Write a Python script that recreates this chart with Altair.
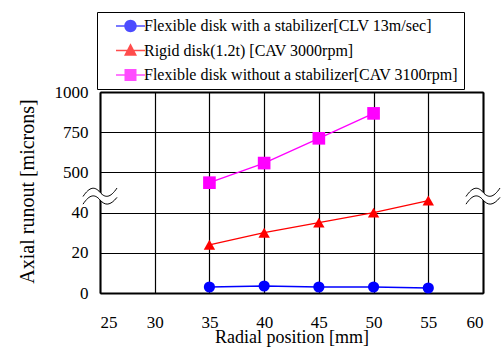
import altair as alt
import pandas as pd

# ---- data ----
radial = [35, 40, 45, 50, 55]
series_names = [
    "Flexible disk with a stabilizer[CLV 13m/sec]",
    "Rigid disk(1.2t) [CAV 3000rpm]",
    "Flexible disk without a stabilizer[CAV 3100rpm]",
]
stabilized = [3, 3.5, 3, 3, 2.5]
rigid = [24, 30, 35, 40, 46]
unstabilized = [436, 558, 712, 867]
colors = ["#0000FF", "#FF0000", "#FF00FF"]
marker_shapes = ["circle", "triangle-up", "square"]
marker_sizes = [125, 130, 160]
line_widths = [1.6, 1.3, 1.3]
x_ticks = [25, 30, 35, 40, 45, 50, 55, 60]
y_tick_labels = ["0", "20", "40", "500", "750", "1000"]
break_x = [25, 60]
break_level = [2.4, 2.4]

FONT = "Liberation Serif"

rows = []
for s, vals in zip(series_names, [stabilized, rigid, unstabilized]):
    for r, v in zip(radial, vals):
        rows.append({"radial": r, "series": s, "runout": v})
df = pd.DataFrame(rows)
breaks = pd.DataFrame({"radial": break_x, "pos": break_level})

# broken axis: 0..40 on the lower two cells, 500..1000 on the upper two cells
pos_expr = "datum.runout <= 100 ? datum.runout / 20 : 3 + (datum.runout - 500) / 250"
label_expr = "[" + ",".join("'%s'" % t for t in y_tick_labels) + "][datum.value]"

x_scale = alt.Scale(domain=[25, 60], nice=False, zero=False)
y_scale = alt.Scale(domain=[0, 5], nice=False)

x_enc = alt.X(
    "radial:Q", scale=x_scale,
    axis=alt.Axis(values=x_ticks, format="d", title="Radial position [mm]",
                  labelBaseline="alphabetic", labelPadding=34,
                  titleBaseline="alphabetic", titleY=49.5),
)
y_enc = alt.Y(
    "pos:Q", scale=y_scale,
    axis=alt.Axis(values=list(range(len(y_tick_labels))), labelExpr=label_expr,
                  title="Axial runout [microns]", labelPadding=12,
                  titleX=-73, titleY=99, titleAlign="center", titleBaseline="middle",
                  titleAngle=270),
)

base = alt.Chart(df).transform_calculate(pos=pos_expr)

series_layers = []
for i, (s, col, lw) in enumerate(zip(series_names, colors, line_widths)):
    sub = base.transform_filter(alt.datum.series == s)
    if i == 0:
        series_layers.append(sub.mark_line(color=col, strokeWidth=lw).encode(x=x_enc, y=y_enc))
    else:
        series_layers.append(sub.mark_line(color=col, strokeWidth=lw).encode(x="radial:Q", y="pos:Q"))
for s, col, shp, sz in zip(series_names, colors, marker_shapes, marker_sizes):
    series_layers.append(
        base.transform_filter(alt.datum.series == s)
        .mark_point(shape=shp, size=sz, filled=True, opacity=1, color=col)
        .encode(x="radial:Q", y="pos:Q")
    )

# legend symbols: a short line (thin filled bar) with the marker in the middle
legend_paths = [
    "M1,-0.13H6.8V0.13H1Z"
    "M5.15,0C5.15,0.69,4.59,1.25,3.9,1.25C3.21,1.25,2.65,0.69,2.65,0"
    "C2.65,-0.69,3.21,-1.25,3.9,-1.25C4.59,-1.25,5.15,-0.69,5.15,0Z",
    "M1,-0.13H6.8V0.13H1Z"
    "M3.9,-1.45L5.2,1.05L2.6,1.05Z",
    "M1,-0.13H6.8V0.13H1Z"
    "M2.7,-1.2H5.1V1.2H2.7Z",
]
legend = alt.Legend(
    title=None, orient="none", legendX=-3, legendY=-80,
    labelFont=FONT, labelFontSize=16, labelColor="black", labelLimit=500,
    symbolSize=100, symbolStrokeWidth=0, labelOffset=25,
    padding=6, rowPadding=8.5, strokeColor="black",
)
legend_layer = base.mark_point(filled=True, size=0).encode(
    x="radial:Q", y="pos:Q",
    color=alt.Color("series:N", scale=alt.Scale(domain=series_names, range=colors), legend=legend),
    shape=alt.Shape("series:N", scale=alt.Scale(domain=series_names, range=legend_paths), legend=legend),
)

# frame: top / right edges from secondary axes (drawn below the break marks)
frame = alt.Chart(breaks).mark_point(size=0).encode(
    x=alt.X("radial:Q", scale=x_scale,
            axis=alt.Axis(orient="top", labels=False, grid=False, title=None,
                          domain=True, domainColor="black", domainWidth=2)),
    y=alt.Y("pos:Q", scale=y_scale,
            axis=alt.Axis(orient="right", labels=False, grid=False, title=None,
                          domain=True, domainColor="black", domainWidth=2)),
)

band_path = ("M-1,0 C-0.6,-0.6 -0.3,-0.6 0,-0.25 C0.3,0.1 0.6,0.1 1,-0.5 "
             "L1,0.05 C0.6,0.55 0.3,0.55 0,0.2 C-0.3,-0.15 -0.6,-0.15 -1,0.45 Z")
wave_path = ("M-1,0 C-0.6,-0.6 -0.3,-0.6 0,-0.25 C0.3,0.1 0.6,0.1 1,-0.5 "
             "M-1,0.45 C-0.6,-0.15 -0.3,-0.15 0,0.2 C0.3,0.55 0.6,0.55 1,0.05")
break_band = alt.Chart(breaks).mark_point(
    shape=band_path, size=1156, filled=True, fill="white", opacity=1, strokeWidth=0
).encode(x="radial:Q", y="pos:Q")
break_wave = alt.Chart(breaks).mark_point(
    shape=wave_path, size=1156, filled=False, stroke="black", strokeWidth=1, opacity=1
).encode(x="radial:Q", y="pos:Q")

main = alt.layer(*series_layers, legend_layer, break_band, break_wave)

chart = alt.layer(main, frame).resolve_axis(x="independent", y="independent").properties(
    width=383, height=201,
    padding={"left": 100, "top": 92, "right": 19, "bottom": 60},
    autosize=alt.AutoSizeParams(type="none"),
).configure_view(
    stroke=None
).configure_axis(
    grid=True, gridColor="black", gridOpacity=1, gridWidth=1.2,
    domain=True, domainColor="black", domainWidth=2,
    ticks=False, tickSize=0,
    labelFont=FONT, labelFontSize=17, labelColor="black",
    titleFont=FONT, titleFontWeight="normal", titleColor="black",
).configure_axisX(titleFontSize=18).configure_axisY(titleFontSize=20)

chart.save("out.html", embed_options={"renderer": "svg", "actions": False})
